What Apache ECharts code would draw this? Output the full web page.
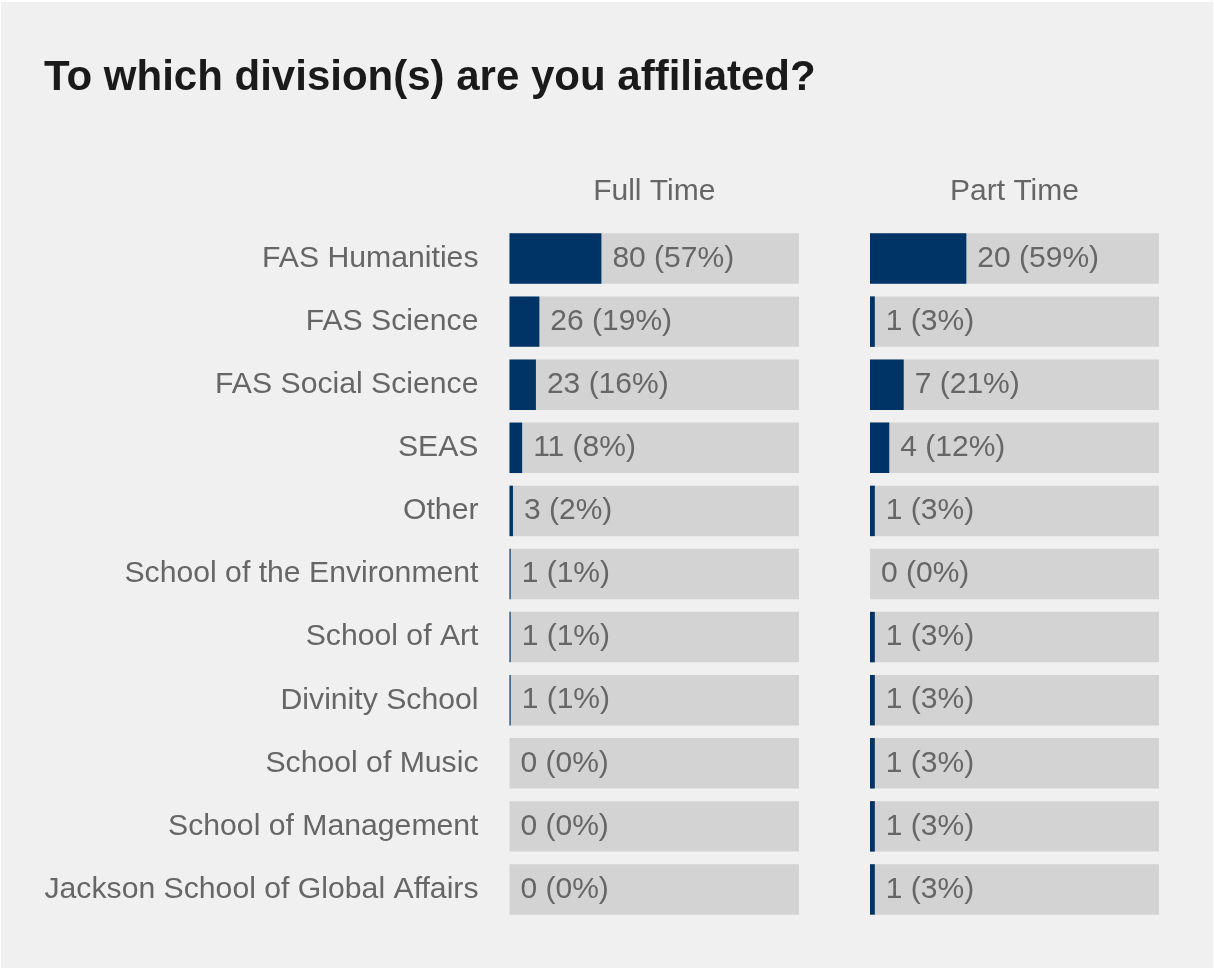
<!DOCTYPE html>
<html>
<head>
<meta charset="utf-8">
<script src="https://cdn.jsdelivr.net/npm/echarts@6/dist/echarts.min.js"></script>
<style>
  html, body { margin: 0; padding: 0; background: #ffffff; }
  #chart { position: absolute; left: 1px; top: 2px; width: 1212px; height: 966px; background: #f0f0f0; }
</style>
</head>
<body>
<div id="chart"></div>
<script>
const categories = [
  "FAS Humanities", "FAS Science", "FAS Social Science", "SEAS", "Other",
  "School of the Environment", "School of Art", "Divinity School",
  "School of Music", "School of Management", "Jackson School of Global Affairs"
];
const fullTimeCounts = [80, 26, 23, 11, 3, 1, 1, 1, 0, 0, 0];
const fullTimePct    = [57, 19, 16, 8, 2, 1, 1, 1, 0, 0, 0];
const partTimeCounts = [20, 1, 7, 4, 1, 0, 1, 1, 1, 1, 1];
const partTimePct    = [59, 3, 21, 12, 3, 0, 3, 3, 3, 3, 3];
const panelTitles = ["Full Time", "Part Time"];
const fullTimeAxisMax = 252;
const partTimeAxisMax = 60;

const textColor = "#666666";
const fontFamily = "Arial, 'Liberation Sans', Helvetica, sans-serif";

function series(idx, counts, pct) {
  return {
    type: "bar",
    xAxisIndex: idx,
    yAxisIndex: idx,
    data: counts,
    barCategoryGap: "20%",
    itemStyle: { color: "#003366" },
    showBackground: true,
    backgroundStyle: { color: "#d3d3d3" },
    label: {
      show: true,
      position: "right",
      distance: 11,
      color: textColor,
      fontSize: 30,
      fontFamily: fontFamily,
      padding: [4, 0, 0, 0],
      formatter: p => counts[p.dataIndex] + " (" + pct[p.dataIndex] + "%)"
    },
    silent: true,
    animation: false
  };
}

const chart = echarts.init(document.getElementById("chart"), null, { renderer: "canvas" });
const gridTop = 225, gridHeight = 694;
chart.setOption({
  backgroundColor: "#f0f0f0",
  animation: false,
  title: [
    {
      text: "To which division(s) are you affiliated?",
      left: 43, top: 55, padding: 0,
      textStyle: { color: "#1a1a1a", fontSize: 42, fontWeight: "bold", fontFamily: fontFamily }
    },
    {
      text: panelTitles[0],
      left: 508.5 + 289.5 / 2, top: 175, textAlign: "center", padding: 0,
      textStyle: { color: textColor, fontSize: 30, fontWeight: "normal", fontFamily: fontFamily }
    },
    {
      text: panelTitles[1],
      left: 869 + 289 / 2, top: 175, textAlign: "center", padding: 0,
      textStyle: { color: textColor, fontSize: 30, fontWeight: "normal", fontFamily: fontFamily }
    }
  ],
  grid: [
    { left: 508.5, width: 289.5, top: gridTop, height: gridHeight },
    { left: 869, width: 289, top: gridTop, height: gridHeight }
  ],
  xAxis: [
    { gridIndex: 0, type: "value", min: 0, max: fullTimeAxisMax, show: false },
    { gridIndex: 1, type: "value", min: 0, max: partTimeAxisMax, show: false }
  ],
  yAxis: [
    {
      gridIndex: 0, type: "category", data: categories, inverse: true,
      axisLine: { show: false }, axisTick: { show: false }, splitLine: { show: false },
      axisLabel: { color: textColor, fontSize: 30.2, fontFamily: fontFamily, margin: 31, padding: [4, 0, 0, 0] }
    },
    {
      gridIndex: 1, type: "category", data: categories, inverse: true,
      axisLine: { show: false }, axisTick: { show: false }, splitLine: { show: false },
      axisLabel: { show: false }
    }
  ],
  series: [
    series(0, fullTimeCounts, fullTimePct),
    series(1, partTimeCounts, partTimePct)
  ]
});
</script>
</body>
</html>
